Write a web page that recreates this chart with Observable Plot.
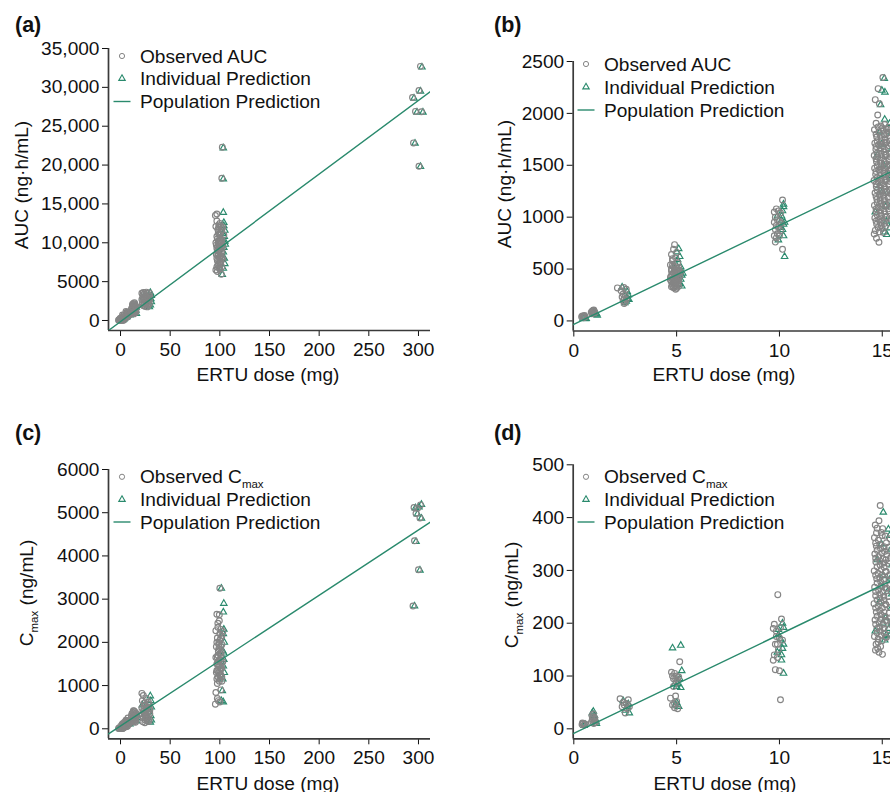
<!DOCTYPE html>
<html><head><meta charset="utf-8">
<script src="https://cdn.jsdelivr.net/npm/d3@7"></script>
<script src="https://cdn.jsdelivr.net/npm/@observablehq/plot@0.6"></script>
<style>
html,body{margin:0;padding:0;background:#fff;}
#fig{position:relative;width:890px;height:792px;overflow:hidden;background:#fff;}
#fig svg{position:absolute;}
</style></head><body><div id="fig"></div>
<script>
// ---------------- DATA ----------------
// [dose (mg, jittered as plotted), value]
// Panel (a) – AUC, all doses
const aAucObs = [
  [-2,45],[0,35],[2,50],[-1,40],[1,30],[3,42],
  [-1.5,90],[0.5,75],[2.5,100],[1,85],[3,70],
  [0,300],[1.5,250],[3.5,200],[2.5,180],[4,310],[-0.5,220],
  [2,700],[3,600],[4.5,500],[5.5,420],[6,350],[5,380],[3.5,330],[2.5,450],[5,550],[6,480],[4,410],[5.5,620],
  [5.5,1150],[6.5,1050],[7,950],[8,900],[8.5,800],[7.5,1000],[6,850],[9,700],[8,620],
  [11,1500],[12,1800],[13,2000],[14,2300],[12.5,1200],[13.5,1400],[14.5,1700],[15,1900],[11.5,1000],[12,900],[13,1100],[14,1300],[15,1600],[15.5,1400],[15,1200],[14.5,1000],[13.5,850],[12.5,1600],[11,1300],[15.5,1100],[13,2200],[14,1900],[14.5,2100],[15.5,1750],[12,2050],
  [21.5,3500],[22.5,3300],[23,3600],[24,3400],[25,3200],[26,3650],[27,3500],[28,3300],[29,3550],[22.5,3000],[24.5,2900],[26.5,3000],[28.5,2800],[21.5,2700],[23.5,2600],[25.5,2500],[27.5,2400],[29.5,2700],[22,2300],[24,2200],[26,2100],[28,2000],[23,1900],[25,1800],[27,1750],[29,2150],[29.5,3100],[24,2750],[22,2050],[26.5,2350],
  [102.5,22300],[102,18300],[97,13700],[95.5,13500],[100,12500],[96,12100],[103,12000],[98,11700],[101,11400],[99,11100],[104,11000],[97,10800],[100,10600],[102,10400],[98.5,10200],[96,10000],[101,9900],[103,9700],[99,9500],[97,9300],[100,9100],[102,8900],[98,8700],[96.5,8500],[101,8300],[99.5,8100],[103,7900],[97.5,7700],[100,7400],[98,7100],[102,6900],[96,6500],[97.5,6300],[100,6600],[101.5,5950],[99,12300],[101,10000],[98,9000],[100,8000],[102,11700],
  [97,12800],[99,12000],[101,12100],[98.5,11300],[100.5,11000],[97.5,10500],[99.5,10300],[101.5,10200],[96.5,9700],[98.5,9800],[100.5,9600],[102.5,9400],[97.5,9000],[99.5,8900],[101.5,8700],[98,8400],[100,8300],[102,8100],[97,8000],[99,7800],[101,7600],[98.5,7300],[100.5,7200],[99,6800],[97,6900],
  [302,32700],[300.5,29600],[294,28700],[297,26900],[303,26850],[295,22850],[300.5,19850]
];
const aAucPred = [
  [1,30],[2.5,80],[3.5,200],[6,400],[6.5,520],[9,900],[9.5,700],
  [15.5,1300],[16,900],[15.8,1700],[15.5,2000],
  [30,3600],[31,3200],[30.5,2800],[31,2400],[30,2000],[29,1750],[26,2600],[23,3000],[28,3000],
  [103.5,22200],[103.5,18200],[103.5,13900],[104,12200],[105,11600],[104.5,10800],[105.5,9800],[104,9400],[105,10200],[103.5,8800],[104.5,8000],[105,7300],[103.5,6700],[102.5,5900],[104,12600],[103,11200],
  [303.5,32600],[302,29500],[295.5,28600],[298.5,26800],[304.5,26800],[296.5,22800],[302,19800]
];
const aPop = [[-12.1,-1287],[312.1,29470]];

// Panel (b) – AUC, doses 0.5–15 mg
const bAucObs = [
  [0.38,40],[0.42,48],[0.45,35],[0.50,45],[0.52,52],[0.47,30],[0.55,38],
  [0.85,85],[0.90,95],[0.95,100],[1.00,90],[0.92,75],[1.02,80],[0.88,70],[0.97,105],
  [2.12,318],[2.43,322],[2.55,305],[2.30,290],[2.40,260],[2.50,245],[2.35,230],[2.45,215],[2.55,205],[2.40,195],[2.50,180],[2.45,168],
  [4.90,735],[4.75,640],[4.95,610],[4.80,580],[5.05,560],[4.70,540],[4.85,520],[5.00,505],[5.10,490],[4.75,480],[4.90,470],[5.05,455],[4.80,450],[4.95,440],[5.15,430],[4.70,420],[4.85,410],[5.00,400],[4.90,390],[5.10,385],[4.75,375],[4.95,365],[4.80,355],[5.05,350],[4.90,340],[5.10,335],[4.75,330],[4.85,320],[5.00,315],[4.95,305],[4.70,395],[5.20,470],[4.80,600],[5.00,660],[4.85,690],
  [4.80,540],[4.95,525],[5.10,515],[4.75,500],[4.90,495],[5.05,480],[4.85,465],[5.00,455],[4.75,440],[4.90,425],[5.05,420],[4.80,400],[4.95,410],[5.10,405],[4.85,370],[5.00,375],[4.90,360],[5.05,365],[4.80,340],[4.95,330],
  [10.15,1165],[9.85,1080],[9.75,1050],[9.95,1060],[10.05,1040],[9.80,1000],[9.90,975],[10.00,960],[9.75,950],[10.10,940],[9.85,920],[9.95,900],[9.80,880],[10.05,870],[9.90,840],[9.75,820],[9.85,800],[9.80,760],[10.15,690],[10.00,820],
  [15.03,2345],[14.80,2238],[14.66,2132],[14.86,2092],[14.78,1984],
  [14.70,1905],[14.93,1878],[15.12,1893],[15.31,1866],
  [14.62,1842],[14.84,1818],[15.03,1834],[15.22,1806],[15.41,1845],
  [14.73,1772],[14.95,1757],[15.14,1748],[15.33,1784],
  [14.64,1713],[14.82,1698],[15.01,1688],[15.21,1724],[15.43,1702],
  [14.69,1652],[14.91,1637],[15.09,1628],[15.29,1663],
  [14.61,1594],[14.79,1578],[14.98,1571],[15.19,1603],[15.39,1581],
  [14.72,1533],[14.92,1518],[15.11,1507],[15.32,1544],
  [14.63,1472],[14.83,1457],[15.02,1452],[15.23,1483],[15.42,1461],
  [14.68,1412],[14.89,1398],[15.08,1389],[15.28,1423],
  [14.60,1353],[14.81,1337],[15.00,1332],[15.18,1364],[15.38,1343],
  [14.71,1292],[14.94,1279],[15.13,1268],[15.34,1302],
  [14.65,1232],[14.85,1218],[15.04,1213],[15.24,1242],[15.44,1219],
  [14.74,1172],[14.90,1157],[15.10,1148],[15.30,1183],
  [14.62,1113],[14.80,1098],[14.99,1092],[15.20,1121],[15.40,1097],
  [14.70,1052],[14.92,1038],[15.12,1029],[15.33,1062],
  [14.64,993],[14.83,978],[15.02,968],[15.22,1002],[15.41,981],
  [14.73,932],[14.95,918],[15.15,908],[15.35,943],
  [14.66,872],[14.86,858],[15.06,851],
  [14.61,838],[14.72,796],[14.84,758],
  [14.80,1870],[15.00,1860],[15.20,1850],[14.70,1800],[14.90,1790],[15.10,1795],[15.30,1815],[14.75,1735],[14.95,1725],[15.15,1715],[15.35,1735],[14.70,1680],[14.90,1670],[15.10,1660],[15.30,1690],[14.75,1615],[14.95,1605],[15.15,1595],[15.35,1615],[14.70,1560],[14.90,1550],[15.10,1540],[15.30,1565],[14.75,1495],[14.95,1485],[15.15,1475],[15.35,1500],[14.70,1440],[14.90,1430],[15.10,1420],[15.30,1445],[14.75,1380],[14.95,1365],[15.15,1355],[15.35,1380],[14.70,1320],[14.90,1310],[15.10,1300],[15.30,1320],[14.75,1260],[14.95,1250],[15.15,1240],[15.35,1260],[14.70,1200],[14.90,1190],[15.10,1180],[15.30,1200],[14.75,1140],[14.95,1130],[15.15,1120],[15.35,1140],[14.70,1080],[14.90,1070],[15.10,1060],[15.30,1080],[14.75,1020],[14.95,1010],[15.15,1000],[14.70,960],[14.90,950],[15.10,940],[14.80,900],[15.00,890]
];
const bAucPred = [
  [0.45,25],[0.50,30],[0.57,20],[0.60,22],[0.48,35],
  [1.05,65],[1.10,72],[1.00,78],[1.14,55],[0.95,85],
  [2.35,325],[2.60,280],[2.65,250],[2.60,215],[2.55,190],[2.48,175],[2.68,205],
  [5.10,695],[5.00,665],[5.15,620],[5.05,590],[4.95,550],[5.20,520],[5.10,480],[5.25,440],[5.20,400],[5.15,360],[5.25,335],[5.10,350],[4.90,500],[5.00,420],[4.85,380],[5.30,460],[5.05,380],
  [10.20,1125],[10.20,1100],[10.15,1060],[10.10,1010],[10.25,950],[10.20,930],[10.05,900],[10.15,880],[10.20,820],[9.95,780],[10.25,620],[9.90,1010],[10.10,970],
  [15.10,2336],[14.98,2222],[15.13,2204],[14.92,2082],[15.12,1942],[15.36,1902],[15.46,1818],[15.44,1653],[15.47,1498],[15.37,1378],[15.46,1252],[15.42,1118],[15.47,1004],[15.36,896],[15.12,856],[15.22,832],[14.96,1702],[15.06,1502],[14.86,1302],[15.16,1102],[14.76,1598],[15.26,1402],[14.66,1048],[15.02,1248],[14.88,1820],[15.20,960]
];
const bPop = [[-0.03,-35],[16.86,1575]];

// Panel (c) – Cmax, all doses
const cCmaxObs = [
  [-2,8],[0,10],[2,7],[-1,12],[1,9],
  [-1.5,15],[0.5,20],[2.5,12],[1,28],[3,18],
  [0,55],[1.5,45],[3.5,40],[2.5,30],[4,50],
  [1.5,100],[3,90],[4.5,60],[5.5,45],[6,110],[4,40],[3.5,80],[2.5,125],[5,95],[6,55],[4,150],
  [5.5,200],[6.5,180],[7,150],[8,170],[8.5,130],[9,110],[6,190],[7.5,250],[8,160],[7,60],
  [11,300],[11.5,350],[12.5,380],[13.5,410],[14.5,320],[15.5,270],[15,240],[11,250],[12,220],[13,190],[14,160],[15,200],[15.5,300],[14,350],[12.5,280],[13.5,240],[14.5,210],[15.5,360],[11.5,180],[15,150],[13,320],[14,270],[14.5,390],[12,160],[13,420],
  [21.5,820],[23,770],[22,650],[24,600],[26,700],[28,620],[25,550],[27,500],[29,560],[21.5,480],[23.5,450],[25.5,420],[27.5,380],[29.5,430],[22,350],[24,320],[26,300],[28,280],[29.5,350],[23,250],[25,200],[27,180],[29,220],[22.5,160],[24.5,140],[26.5,240],[28.5,170],[21.5,300],[29,480],[24,520],[26,450],[23,400],
  [100,3250],[97,2650],[99.5,2640],[96,2270],[98,2440],[101,2300],[103,2250],[97.5,2100],[100,2050],[102,1950],[96.5,1900],[99,1850],[101.5,1780],[98,1700],[96,1650],[100.5,1600],[103,1550],[97,1500],[99,1450],[101,1400],[98,1350],[96.5,1300],[100,1250],[102,1200],[97,1150],[99.5,1100],[96,840],[97.5,700],[100,620],[95.5,570],[98.5,650],[101,900],[99,2000],[101,1700],[98,1550],[100,1350],
  [98,2350],[100,2200],[102,2150],[97,2000],[99,1950],[101,1900],[98.5,1800],[100.5,1750],[97.5,1650],[99.5,1600],[101.5,1550],[98,1500],[100,1450],[102,1400],[97,1350],[99,1300],[101,1250],[98,1200],[100,1150],[102,1100],[97.5,1050],[99.5,2500],[101,2100],
  [295.5,5120],[299,5100],[302,5180],[297.5,4980],[301.5,4880],[296,4350],[300,3680],[294.5,2840]
];
const cCmaxPred = [
  [1,20],[2.5,45],[5,60],[6.5,100],[9,150],[9.5,110],[16,250],[16.5,320],[16,180],
  [30.5,650],[31,500],[30.5,300],[31,200],[30,760],[28,450],[25,350],[22,550],[30,150],[27,270],
  [101.5,3250],[104,2900],[103.5,2700],[104,2300],[103.5,2200],[104.5,2000],[103,1800],[104,1600],[103.5,1450],[104.5,1300],[103,1150],[102.5,880],[103.5,620],[101.5,650],[104,1750],
  [297,5110],[303,5190],[299,4970],[303,4870],[297.5,4330],[301.5,3670],[296,2840],[300.5,5130]
];
const cPop = [[-12.1,-116],[312.1,4786]];

// Panel (d) – Cmax, doses 0.5–15 mg
const dCmaxObs = [
  [0.40,8],[0.45,10],[0.50,7],[0.55,9],[0.42,11],
  [0.85,12],[0.90,18],[0.95,22],[1.00,15],[0.88,25],[0.97,10],[1.02,20],[0.92,14],[0.95,28],[1.05,12],
  [2.25,57],[2.65,55],[2.55,48],[2.35,42],[2.45,45],[2.60,38],[2.50,30],[2.40,50],[2.70,42],
  [4.75,107],[4.90,105],[5.00,100],[4.85,95],[5.05,92],[5.15,127],[4.70,58],[4.95,62],[5.00,52],[4.80,45],[4.90,40],[5.05,38],[4.85,80],[5.00,88],[4.90,48],[4.95,95],[5.10,98],[4.80,100],
  [9.92,254],[10.10,208],[9.75,198],[9.70,190],[9.85,185],[10.00,172],[10.15,168],[9.80,160],[9.95,150],[9.75,140],[9.90,135],[9.70,130],[9.80,112],[10.00,110],[10.05,55],[10.05,192],[9.85,175],[9.90,160],
  [14.90,423],[14.66,386],[14.84,394],[15.02,379],[14.72,371],
  [14.62,362],[14.81,357],[15.00,366],[15.20,352],[15.38,360],
  [14.71,346],[14.92,341],[15.11,336],[15.31,344],
  [14.64,331],[14.83,326],[15.03,322],[15.22,330],[15.41,324],
  [14.69,316],[14.90,310],[15.09,306],[15.29,313],
  [14.61,299],[14.80,294],[14.99,291],[15.19,298],[15.39,292],
  [14.73,284],[14.93,278],[15.13,274],[15.33,282],
  [14.63,268],[14.82,263],[15.02,259],[15.23,266],[15.43,261],
  [14.68,252],[14.89,247],[15.08,243],[15.28,251],
  [14.60,237],[14.81,232],[15.00,229],[15.18,235],[15.38,230],
  [14.71,221],[14.94,216],[15.13,213],[15.34,219],
  [14.65,206],[14.85,201],[15.04,198],[15.24,204],[15.44,199],
  [14.74,190],[14.90,185],[15.10,181],[15.30,188],
  [14.62,175],[14.80,170],[14.99,167],[15.20,173],
  [14.70,160],[14.92,156],[14.67,149],[14.84,145],[15.01,141],[14.78,152],
  [14.75,380],[14.95,372],[15.15,365],[14.68,352],[14.88,349],[15.08,345],[15.28,337],[14.75,338],[14.98,333],[15.18,320],[14.68,323],[14.88,318],[15.08,314],[15.35,318],[14.75,307],[14.95,302],[15.15,297],[14.68,291],[14.88,286],[15.08,283],[15.30,290],[14.75,276],[14.95,270],[15.15,266],[15.36,272],[14.68,260],[14.88,255],[15.08,251],[14.75,244],[14.95,239],[15.15,236],[15.33,240],[14.68,229],[14.88,224],[15.08,221],[14.75,213],[14.95,208],[15.15,205],[15.35,210],[14.68,198],[14.88,193],[15.08,190],[14.75,182],[14.95,177],[15.15,174],[14.80,164]
];
const dCmaxPred = [
  [0.50,6],[0.55,8],
  [0.95,33],[1.05,18],[1.10,10],[1.00,25],[0.90,30],[1.08,14],
  [2.40,53],[2.60,42],[2.70,30],[2.50,35],[2.65,47],
  [4.80,153],[5.20,158],[5.25,110],[5.05,85],[5.20,78],[4.95,45],[5.10,42],[4.90,85],[5.00,80],[5.15,95],[5.00,50],
  [10.15,200],[10.20,192],[9.95,178],[10.05,170],[10.20,160],[10.15,152],[10.10,140],[9.90,145],[10.20,105],[9.95,188],[10.10,130],
  [15.05,410],[15.30,378],[15.36,366],[15.42,340],[15.46,310],[15.40,285],[15.46,255],[15.43,228],[15.46,200],[15.32,190],[15.20,178],[15.12,168],[15.36,176],[14.96,350],[15.06,290],[14.86,240],[15.16,210],[14.76,320],[15.26,260],[14.66,185],[15.02,200],[14.90,270]
];
const dPop = [[-0.03,-9],[16.86,307]];

// ticks and texts
const xTicksWide = [0,50,100,150,200,250,300];
const xTicksNarrow = [0,5,10,15];
const yTicksA = [0,5000,10000,15000,20000,25000,30000,35000];
const yTicksB = [0,500,1000,1500,2000,2500];
const yTicksC = [0,1000,2000,3000,4000,5000,6000];
const yTicksD = [0,100,200,300,400,500];
const panelLetters = ["(a)","(b)","(c)","(d)"];
const xTitle = "ERTU dose (mg)";
const yTitleAuc = [["AUC (ng·h/mL)", false]];
const yTitleCmax = [["C", false],["max", true],[" (ng/mL)", false]];
const legendObsAuc = [["Observed AUC", false]];
const legendObsCmax = [["Observed C", false],["max", true]];
const legendPred = "Individual Prediction";
const legendPop = "Population Prediction";

// ---------------- DRAWING ----------------
const GREEN = "#2a8a6d", GRAY = "#858585", AXIS = "#3a3a3a", INK = "#111";
const FONT = '"Liberation Sans", Arial, Helvetica, sans-serif';
const FS = 19.1;
const fmtTick = d => d >= 10000 ? d3.format(",")(d) : String(d);

function richText(sel, parts, subSize) {
  let shifted = false;
  parts.forEach(([t, sub]) => {
    const ts = sel.append("tspan").text(t);
    if (sub && !shifted) { ts.attr("font-size", subSize).attr("dy", 5); shifted = true; }
    else if (!sub && shifted) { ts.attr("dy", -5); shifted = false; }
  });
}

function panel(cfg) {
  const svg = Plot.plot({
    width: cfg.width, height: cfg.height,
    marginLeft: cfg.ml, marginRight: cfg.mr, marginTop: cfg.mt, marginBottom: cfg.mb,
    style: {fontFamily: FONT, fontSize: FS + "px", color: INK, background: "transparent", overflow: "visible"},
    x: {domain: cfg.xDomain, ticks: cfg.xTicks, tickSize: 6, tickPadding: 6, label: null, tickFormat: fmtTick},
    y: {domain: cfg.yDomain, ticks: cfg.yTicks, tickSize: 6, tickPadding: 3, label: null, tickFormat: fmtTick},
    marks: [
      Plot.ruleX([cfg.xDomain[0]], {stroke: AXIS, strokeWidth: 1.7}),
      Plot.ruleY([cfg.yDomain[0]], {stroke: AXIS, strokeWidth: 1.7}),
      Plot.dot(cfg.pred, {x: d => d[0], y: d => d[1], symbol: "triangle", r: 2.4, stroke: GREEN, strokeWidth: 1.15, fill: "none"}),
      Plot.dot(cfg.obs, {x: d => d[0], y: d => d[1], symbol: "circle", r: 2.9, stroke: GRAY, strokeWidth: 1.15, fill: "none"}),
      Plot.line(cfg.pop, {x: d => d[0], y: d => d[1], stroke: GREEN, strokeWidth: 1.4, clip: true})
    ]
  });
  svg.style.left = cfg.left + "px";
  svg.style.top = cfg.top + "px";
  svg.style.maxWidth = "none";

  const g = d3.select(svg).append("g").attr("font-family", FONT).attr("fill", INK).attr("text-anchor", "start");
  g.append("text").attr("x", cfg.letter[0]).attr("y", cfg.letter[1]).attr("text-anchor", "start")
    .attr("font-size", 21.5).attr("font-weight", "bold").text(cfg.letterText);
  g.append("text").attr("x", cfg.xt[0]).attr("y", cfg.xt[1]).attr("text-anchor", "middle")
    .attr("font-size", FS).text(xTitle);
  const yt = g.append("text").attr("transform", `translate(${cfg.yt[0]},${cfg.yt[1]}) rotate(-90)`)
    .attr("text-anchor", "middle").attr("font-size", FS);
  richText(yt, cfg.yTitle, 11.5);

  // legend
  const L = cfg.leg;
  g.append("circle").attr("cx", L.sx).attr("cy", L.rows[0] - 6.5).attr("r", 2.6)
    .attr("fill", "none").attr("stroke", GRAY).attr("stroke-width", 1);
  g.append("path").attr("d", d3.symbol(d3.symbolTriangle, 2.4 * 2.4 * Math.PI)())
    .attr("transform", `translate(${L.sx},${L.rows[1] - 6.5})`)
    .attr("fill", "none").attr("stroke", GREEN).attr("stroke-width", 1.1);
  g.append("line").attr("x1", L.sx - 8.5).attr("x2", L.sx + 8.5)
    .attr("y1", L.rows[2] - 6.5).attr("y2", L.rows[2] - 6.5)
    .attr("stroke", GREEN).attr("stroke-width", 1.4);
  const t0 = g.append("text").attr("x", L.tx).attr("y", L.rows[0]).attr("text-anchor", "start").attr("font-size", FS);
  richText(t0, cfg.legObs, 11.5);
  g.append("text").attr("x", L.tx).attr("y", L.rows[1]).attr("text-anchor", "start").attr("font-size", FS).text(legendPred);
  g.append("text").attr("x", L.tx).attr("y", L.rows[2]).attr("text-anchor", "start").attr("font-size", FS).text(legendPop);
  return svg;
}

const fig = document.getElementById("fig");
fig.append(panel({
  left: 0, top: 0, width: 445, height: 400, ml: 108, mr: 15, mt: 48, mb: 70,
  xDomain: [-12.1, 312.1], yDomain: [-1287, 35000], xTicks: xTicksWide, yTicks: yTicksA,
  obs: aAucObs, pred: aAucPred, pop: aPop,
  letter: [15, 32], letterText: panelLetters[0], xt: [268, 381], yt: [27.5, 185], yTitle: yTitleAuc,
  legObs: legendObsAuc, leg: {sx: 122, tx: 140, rows: [62.5, 85, 108]}
}));
fig.append(panel({
  left: 445, top: 0, width: 490, height: 400, ml: 127.7, mr: 15, mt: 61, mb: 69.5,
  xDomain: [-0.03, 16.86], yDomain: [-97, 2500], xTicks: xTicksNarrow, yTicks: yTicksB,
  obs: bAucObs, pred: bAucPred, pop: bPop,
  letter: [49, 32], letterText: panelLetters[1], xt: [279, 381], yt: [66, 184], yTitle: yTitleAuc,
  legObs: legendObsAuc, leg: {sx: 141, tx: 159, rows: [70.5, 93.5, 116.5]}
}));
fig.append(panel({
  left: 0, top: 400, width: 445, height: 392, ml: 108, mr: 15, mt: 69, mb: 53.7,
  xDomain: [-12.1, 312.1], yDomain: [-231.7, 6000], xTicks: xTicksWide, yTicks: yTicksC,
  obs: cCmaxObs, pred: cCmaxPred, pop: cPop,
  letter: [15, 39.5], letterText: panelLetters[2], xt: [268, 390], yt: [33, 193], yTitle: yTitleCmax,
  legObs: legendObsCmax, leg: {sx: 122, tx: 140, rows: [83.3, 106, 128.5]}
}));
fig.append(panel({
  left: 445, top: 400, width: 490, height: 392, ml: 127.7, mr: 15, mt: 64.3, mb: 53.7,
  xDomain: [-0.03, 16.86], yDomain: [-18.9, 500], xTicks: xTicksNarrow, yTicks: yTicksD,
  obs: dCmaxObs, pred: dCmaxPred, pop: dPop,
  letter: [49, 39.5], letterText: panelLetters[3], xt: [280, 390], yt: [73, 195], yTitle: yTitleCmax,
  legObs: legendObsCmax, leg: {sx: 141, tx: 159, rows: [83.3, 106, 128.5]}
}));
</script></body></html>
